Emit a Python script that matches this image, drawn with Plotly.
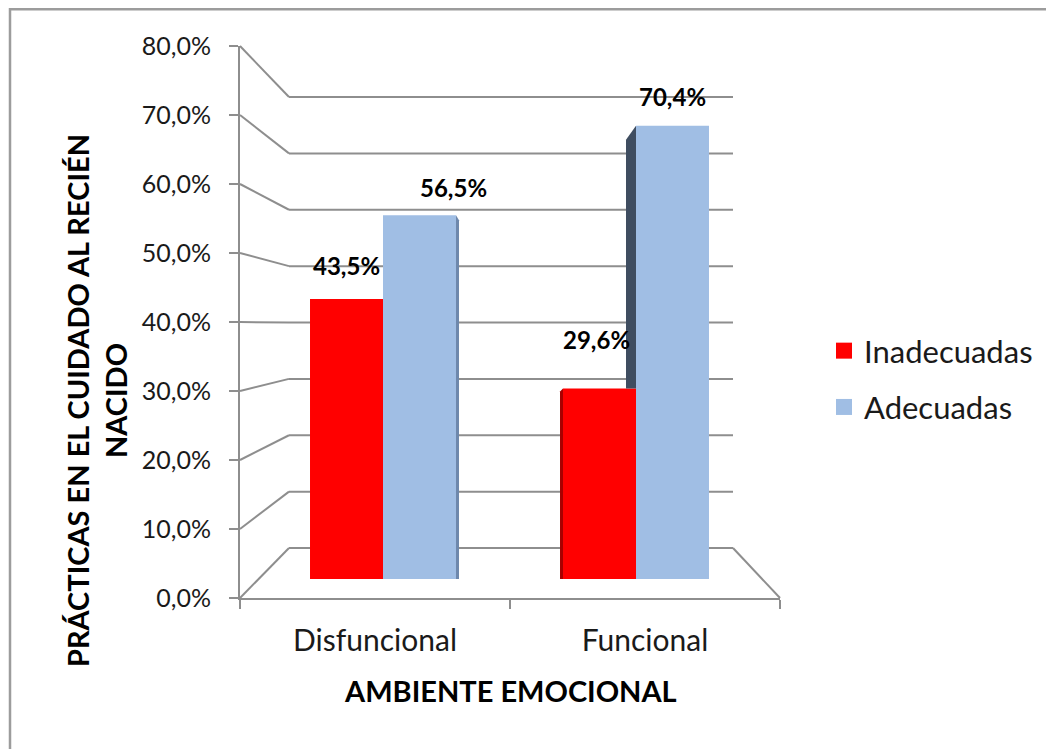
import plotly.graph_objects as go

# ---------------- data ----------------
categories = ["Disfuncional", "Funcional"]
series_names = ["Inadecuadas", "Adecuadas"]
inadecuadas = [0.435, 0.296]
adecuadas = [0.565, 0.704]
y_ticks = [0.0, 0.1, 0.2, 0.3, 0.4, 0.5, 0.6, 0.7, 0.8]
y_title = "PRÁCTICAS EN EL CUIDADO AL RECIÉN<br>NACIDO"
x_title = "AMBIENTE EMOCIONAL"

# ---------------- styles ----------------
RED = "#FF0000"
BLUE = "#A0BEE4"
GRID = "#8E8E8E"
FONT = "Lato"
W, H = 1054, 749
OX, OY = 8, 8  # page body offset compensation


def px(x):
    return (x - OX) / W


def py(y):
    return 1 - (y - OY) / H


# perspective planes (back wall, bar plane, front axes)
BACK_X = [px(289), px(733)]
BACK_Y = [py(548), py(97)]
MID_X = [px(256.5), px(762.5)]
MID_Y = [py(579), py(64)]
FRONT_X = [px(240), px(780)]
FRONT_Y = [py(598), py(46)]
YMAX = 0.8
BARGAP = 0.423
HALF = (1 - BARGAP) / 2  # width of one bar in category units

# label offsets (pixels) for [inadecuadas, adecuadas] per category
LABEL_DX = [[0, 34], [-3, 0]]
LABEL_DY = [[33, 28], [49, 29]]

xs = list(range(len(categories)))
fig = go.Figure()

# legend entries
for name, col in zip(series_names, [RED, BLUE]):
    fig.add_trace(go.Scatter(
        x=[None], y=[None], mode="markers", name=name, legendgroup=name,
        marker=dict(symbol="square", size=17, color=col),
        xaxis="x3", yaxis="y3", hoverinfo="skip"))

# bars on middle plane (x2 / y2)
fig.add_trace(go.Bar(x=xs, y=inadecuadas, name=series_names[0], marker_color=RED,
                     marker_line_width=0, xaxis="x2", yaxis="y2", showlegend=False,
                     hovertext=categories))
fig.add_trace(go.Bar(x=xs, y=adecuadas, name=series_names[1], marker_color=BLUE,
                     marker_line_width=0, xaxis="x2", yaxis="y2", showlegend=False,
                     hovertext=categories))

# front axes (x3 / y3)
fig.add_trace(go.Scatter(x=categories, y=[None] * len(categories), mode="markers",
                         xaxis="x3", yaxis="y3", showlegend=False, hoverinfo="skip"))

shapes = []
# side faces of bars (3D look), derived from values
ux = 1 / 253.0
uy = 1 / 644.0
a0 = adecuadas[0]
x0 = xs[0] + HALF
shapes.append(dict(type="path", xref="x2", yref="y2", layer="above", line_width=0,
                   fillcolor="#6E88AC",
                   path=f"M {x0},{a0} L {x0 + 3 * ux},{a0 - 5 * uy} L {x0 + 3 * ux},0 L {x0},0 Z"))
a1 = adecuadas[1]
r1 = inadecuadas[1]
x1 = xs[1]
shapes.append(dict(type="path", xref="x2", yref="y2", layer="above", line_width=0,
                   fillcolor="#3F4D60",
                   path=f"M {x1 - 10 * ux},{a1 - 14 * uy} L {x1},{a1} L {x1},{r1} L {x1 - 10 * ux},{r1} Z"))
xr = xs[1] - HALF
shapes.append(dict(type="path", xref="x2", yref="y2", layer="above", line_width=0,
                   fillcolor="#A80000",
                   path=f"M {xr - 3 * ux},{r1 - 3 * uy} L {xr},{r1} L {xr},0 L {xr - 3 * ux},0 Z"))

# back wall gridlines, side wall diagonals + floor edge
for v in y_ticks:
    f = v / YMAX
    yf = FRONT_Y[0] + f * (FRONT_Y[1] - FRONT_Y[0])
    yb = BACK_Y[0] + f * (BACK_Y[1] - BACK_Y[0])
    shapes.append(dict(type="line", xref="paper", yref="paper", layer="below",
                       x0=FRONT_X[0], y0=yf, x1=BACK_X[0], y1=yb,
                       line=dict(color=GRID, width=2)))
    shapes.append(dict(type="line", xref="paper", yref="paper", layer="below",
                       x0=BACK_X[0], y0=yb, x1=BACK_X[1], y1=yb,
                       line=dict(color=GRID, width=2)))
shapes.append(dict(type="line", xref="paper", yref="paper", layer="below",
                   x0=FRONT_X[1], y0=FRONT_Y[0], x1=BACK_X[1], y1=BACK_Y[0],
                   line=dict(color=GRID, width=2)))
# chart border (left and top edges visible)
shapes.append(dict(type="path", xref="paper", yref="paper", layer="above",
                   path=f"M {px(10)},{py(770)} L {px(10)},{py(9.3)} L {px(1080)},{py(9.3)}",
                   line=dict(color="#9C9C9C", width=2.5)))

annotations = []
for i, c in enumerate(categories):
    for j, vals in enumerate([inadecuadas, adecuadas]):
        v = vals[i]
        xc = xs[i] + (-HALF / 2 if j == 0 else HALF / 2)
        annotations.append(dict(
            x=xc, y=v, xref="x2", yref="y2", showarrow=False,
            text=f"<b>{v * 100:.1f}%</b>".replace(".", ","),
            xshift=LABEL_DX[i][j], yshift=LABEL_DY[i][j],
            xanchor="center", yanchor="middle",
            font=dict(family=FONT, size=24, color="#000000")))
annotations.append(dict(x=px(96), y=py(401), xref="paper", yref="paper", showarrow=False,
                        text=f"<b>{y_title}</b>", textangle=-90,
                        xanchor="center", yanchor="middle",
                        font=dict(family=FONT, size=29, color="#000000")))
annotations.append(dict(x=px(510), y=py(690), xref="paper", yref="paper", showarrow=False,
                        text=f"<b>{x_title}</b>", xanchor="center", yanchor="middle",
                        font=dict(family=FONT, size=29, color="#000000")))

fig.update_layout(
    template="none",
    width=W, height=H,
    margin=dict(l=0, r=0, t=0, b=0, autoexpand=False),
    paper_bgcolor="white", plot_bgcolor="rgba(0,0,0,0)",
    separators=",.",
    barmode="group", bargap=BARGAP, bargroupgap=0,
    font=dict(family=FONT, color="#1A1A1A"),
    xaxis2=dict(domain=MID_X, range=[-0.5, len(categories) - 0.5], visible=False,
                anchor="y2", automargin=False),
    yaxis2=dict(domain=MID_Y, range=[0, YMAX], visible=False, anchor="x2", automargin=False),
    xaxis3=dict(domain=FRONT_X, anchor="y3", type="category", categoryarray=categories,
                range=[-0.5, len(categories) - 0.5], tickson="boundaries",
                ticks="outside", ticklen=9, tickwidth=2, tickcolor=GRID,
                showline=True, linewidth=2, linecolor=GRID, showgrid=False,
                zeroline=False, ticklabelstandoff=15, automargin=False,
                tickfont=dict(family=FONT, size=30, color="#1A1A1A")),
    yaxis3=dict(domain=FRONT_Y, anchor="x3", range=[0, YMAX], tickvals=y_ticks,
                tickformat=".1%", ticks="outside", ticklen=9, tickwidth=2,
                tickcolor=GRID, showline=True, linewidth=2, linecolor=GRID,
                showgrid=False, zeroline=False, ticklabelstandoff=13, automargin=False,
                tickfont=dict(family=FONT, size=25, color="#1A1A1A")),
    legend=dict(x=px(824), y=py(324), xanchor="left", yanchor="top",
                traceorder="grouped", tracegroupgap=13,
                font=dict(family=FONT, size=31, color="#1A1A1A"),
                bgcolor="rgba(0,0,0,0)"),
    shapes=shapes, annotations=annotations,
    showlegend=True,
)

fig.write_html("out.html")
